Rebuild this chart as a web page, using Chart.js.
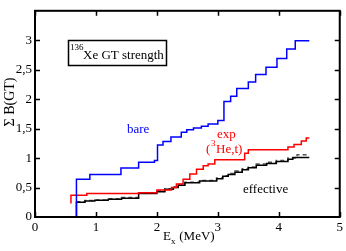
<!DOCTYPE html>
<html>
<head>
<meta charset="utf-8">
<script src="https://cdn.jsdelivr.net/npm/chart.js@4.4.1/dist/chart.umd.min.js"></script>
<style>
  html, body { margin: 0; padding: 0; background: #fff; }
  #wrap { width: 346px; height: 251px; position: relative; }
</style>
</head>
<body>
<div id="wrap"><canvas id="gtChart"></canvas></div>
<script>
// Cumulative GT strength, step curves (E in MeV, level reached at that E)
const bareE = [0.68, 0.68, 0.90, 1.41, 1.70, 1.96, 2.01, 2.10, 2.23, 2.40, 2.49, 2.60, 2.73, 2.84, 3.00, 3.10, 3.21, 3.31, 3.50, 3.62, 3.79, 3.97, 4.13, 4.27, 4.50];
const bareB = [0.00, 0.64, 0.72, 0.83, 0.93, 0.96, 1.22, 1.28, 1.36, 1.44, 1.48, 1.51, 1.54, 1.58, 1.64, 1.96, 2.05, 2.18, 2.29, 2.42, 2.54, 2.69, 2.85, 2.99, 2.99];

const expE = [0.59, 0.59, 0.85, 1.70, 2.00, 2.24, 2.32, 2.43, 2.54, 2.65, 2.76, 2.84, 2.95, 3.44, 3.50, 4.15, 4.25, 4.37, 4.45, 4.50];
const expB = [0.23, 0.37, 0.40, 0.41, 0.46, 0.50, 0.56, 0.64, 0.73, 0.81, 0.87, 0.90, 0.97, 1.08, 1.14, 1.19, 1.23, 1.29, 1.34, 1.34];

const effE = [0.68, 0.68, 0.82, 0.98, 1.20, 1.42, 1.70, 2.00, 2.13, 2.27, 2.35, 2.46, 2.70, 2.98, 3.08, 3.17, 3.28, 3.40, 3.50, 3.63, 3.80, 3.96, 4.15, 4.23, 4.50];
const effB = [0.00, 0.25, 0.27, 0.285, 0.30, 0.32, 0.40, 0.43, 0.47, 0.50, 0.54, 0.58, 0.61, 0.65, 0.69, 0.72, 0.76, 0.80, 0.835, 0.88, 0.91, 0.94, 0.98, 1.01, 1.01];

const eff2E = [0.68, 0.82, 0.98, 1.20, 1.42, 1.70, 2.00, 2.13, 2.27, 2.35, 2.46, 2.70, 2.98, 3.08, 3.17, 3.28, 3.40, 3.50, 3.63, 3.80, 3.96, 4.15, 4.30, 4.50];
const eff2B = [0.26, 0.28, 0.29, 0.31, 0.33, 0.41, 0.44, 0.48, 0.51, 0.55, 0.59, 0.62, 0.66, 0.70, 0.74, 0.78, 0.82, 0.85, 0.90, 0.93, 0.96, 1.00, 1.055, 1.055];

const xTicks = [0, 1, 2, 3, 4, 5];
const yTicks = [0, 0.5, 1, 1.5, 2, 2.5, 3];
const yFrameTicks = [0.5, 1, 1.5, 2, 2.5, 3];

const serif = "'Liberation Serif', serif";
Chart.defaults.font.family = serif;
Chart.defaults.font.size = 13;
Chart.defaults.color = '#000';

function pts(xs, ys) {
    return xs.map((x, i) => ({ x: x, y: ys[i] }));
}

// frame with inward ticks, plus the text labels
const framePlugin = {
    id: 'frame',
    afterDraw(chart) {
        const ctx = chart.ctx;
        const a = chart.chartArea;
        const xs = chart.scales.x, ys = chart.scales.y;
        ctx.save();
        ctx.strokeStyle = '#000';
        ctx.lineWidth = 2;
        ctx.strokeRect(a.left, a.top, a.right - a.left, a.bottom - a.top);
        ctx.lineWidth = 1.5;
        ctx.beginPath();
        xTicks.forEach(v => {
            const px = Math.round(xs.getPixelForValue(v)) + 0.5;
            ctx.moveTo(px, a.bottom); ctx.lineTo(px, a.bottom - 5);
            ctx.moveTo(px, a.top); ctx.lineTo(px, a.top + 5);
        });
        yFrameTicks.forEach(v => {
            const py = Math.round(ys.getPixelForValue(v)) + 0.5;
            ctx.moveTo(a.left, py); ctx.lineTo(a.left + 5, py);
            ctx.moveTo(a.right, py); ctx.lineTo(a.right - 5, py);
        });
        ctx.stroke();

        // title box
        ctx.lineWidth = 1.5;
        ctx.strokeRect(68.5, 40.5, 98, 25);
        ctx.fillStyle = '#000';
        ctx.textBaseline = 'alphabetic';
        ctx.font = '9px ' + serif;
        ctx.fillText('136', 70, 50);
        ctx.font = '13px ' + serif;
        ctx.fillText('Xe GT strength', 83, 59);

        // series labels
        ctx.fillStyle = 'blue';
        ctx.fillText('bare', 127, 133);
        ctx.fillStyle = 'red';
        ctx.fillText('exp', 217, 138);
        ctx.fillText('(', 206, 153);
        ctx.font = '9px ' + serif;
        ctx.fillText('3', 211, 146);
        ctx.font = '13px ' + serif;
        ctx.fillText('He,t)', 216, 153);
        ctx.fillStyle = '#000';
        ctx.fillText('effective', 243, 193);

        // x title with subscript
        ctx.fillText('E', 163, 240);
        ctx.font = '9px ' + serif;
        ctx.fillText('x', 171, 244);
        ctx.font = '13px ' + serif;
        ctx.fillText(' (MeV)', 176, 240);

        // y title
        ctx.translate(14, 102);
        ctx.rotate(-Math.PI / 2);
        ctx.textAlign = 'center';
        ctx.font = '14px ' + serif;
        ctx.fillText('\u03A3 B(GT)', 0, 0);
        ctx.restore();
    }
};

const ctxGT = document.getElementById('gtChart').getContext('2d');
const gtChart = new Chart(ctxGT, {
    type: 'line',
    data: {
        datasets: [{
            label: 'bare',
            data: pts(bareE, bareB),
            borderColor: 'blue',
            borderWidth: 1.5,
            stepped: 'before',
            pointRadius: 0,
            fill: false
        }, {
            label: 'exp',
            data: pts(expE, expB),
            borderColor: 'red',
            borderWidth: 1.5,
            stepped: 'before',
            pointRadius: 0,
            fill: false
        }, {
            label: 'effective',
            data: pts(effE, effB),
            borderColor: '#000',
            borderWidth: 1.5,
            stepped: 'before',
            pointRadius: 0,
            fill: false
        }, {
            label: 'effective (dashed)',
            data: pts(eff2E, eff2B),
            borderColor: '#555',
            borderWidth: 1.5,
            borderDash: [4, 3],
            stepped: 'before',
            pointRadius: 0,
            fill: false
        }]
    },
    options: {
        responsive: true,
        maintainAspectRatio: false,
        animation: false,
        events: [],
        layout: { padding: { top: 4, right: 5, left: 0, bottom: 0 } },
        plugins: {
            legend: { display: false },
            tooltip: { enabled: false }
        },
        scales: {
            x: {
                type: 'linear',
                min: 0,
                max: 5,
                grid: { display: false, drawTicks: false },
                border: { display: false },
                afterBuildTicks: s => { s.ticks = xTicks.map(v => ({ value: v })); },
                afterFit: s => { s.height = 34; },
                ticks: {
                    color: '#000',
                    padding: 3,
                    maxRotation: 0,
                    font: { family: serif, size: 13 }
                }
            },
            y: {
                type: 'linear',
                min: 0,
                max: 3.5,
                grid: { display: false, drawTicks: false },
                border: { display: false },
                afterBuildTicks: s => { s.ticks = yTicks.map(v => ({ value: v })); },
                afterFit: s => { s.width = 35; },
                ticks: {
                    color: '#000',
                    padding: 3,
                    font: { family: serif, size: 13 },
                    callback: v => String(v).replace('.', ',')
                }
            }
        }
    },
    plugins: [framePlugin]
});
</script>
</body>
</html>
